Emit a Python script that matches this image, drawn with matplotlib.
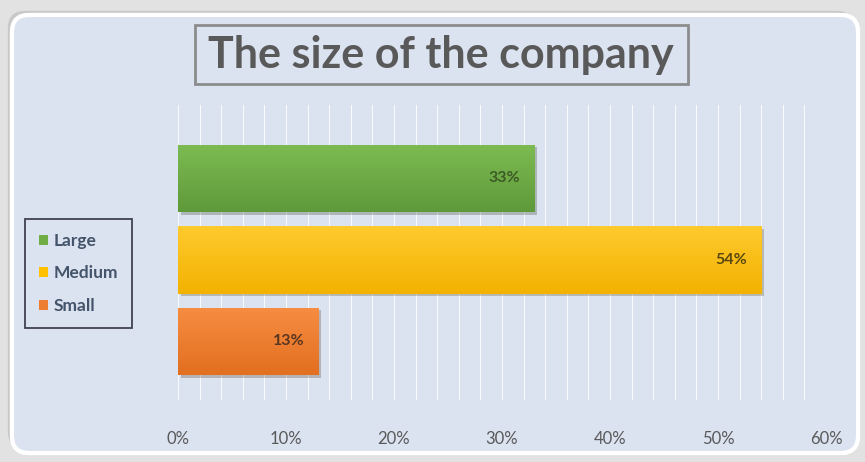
import numpy as np
import matplotlib
matplotlib.use("Agg")
import matplotlib.pyplot as plt
from matplotlib.patches import FancyBboxPatch, Patch, Rectangle
from matplotlib.colors import LinearSegmentedColormap
from matplotlib.ticker import FuncFormatter, MultipleLocator
import matplotlib.patheffects as pe

# company size shares
categories = ["Large", "Medium", "Small"]
shares = [33, 54, 13]
tick_values = [0, 10, 20, 30, 40, 50, 60]

bar_colors = ["#70ad47", "#ffc000", "#ed7d31"]
bar_tops = ["#7dbb52", "#ffca2e", "#f68d42"]
bar_bottoms = ["#5f9a3a", "#f2b200", "#e36f20"]
label_colors = ["#3b5a26", "#5a4810", "#5a3520"]

plt.rcParams["font.family"] = ["Lato", "DejaVu Sans"]

fig = plt.figure(figsize=(8.65, 4.62), dpi=100)
fig.patch.set_facecolor("#e2e2e2")

# rounded chart panel
panel = FancyBboxPatch((12 / 865, 9 / 462), 846 / 865, 438 / 462,
                       boxstyle="round,pad=0,rounding_size=0.02",
                       transform=fig.transFigure, facecolor="#dbe2f0",
                       edgecolor="white", linewidth=3, zorder=-5,
                       mutation_aspect=865 / 462)
panel.set_path_effects([pe.withSimplePatchShadow(offset=(-3, 3), alpha=0.25,
                                                 shadow_rgbFace="#808080"),
                        pe.Normal()])
fig.patches.append(panel)

ax = fig.add_axes([178 / 865, 62 / 462, 648 / 865, 295 / 462], zorder=2)
ax.set_facecolor("none")
for s in ax.spines.values():
    s.set_visible(False)

ypos = np.arange(len(categories))
bars = ax.barh(ypos, shares, height=0.83, color=bar_colors, zorder=3)
for bar, top, bottom in zip(bars, bar_tops, bar_bottoms):
    bar.set_path_effects([pe.withSimplePatchShadow(offset=(2, -2), alpha=0.25), pe.Normal()])
    x0, y0 = bar.get_x(), bar.get_y()
    w, h = bar.get_width(), bar.get_height()
    cmap = LinearSegmentedColormap.from_list("g", [top, bottom])
    grad = np.linspace(0, 1, 64).reshape(-1, 1)
    im = ax.imshow(grad, cmap=cmap, aspect="auto", extent=(x0, x0 + w, y0 + h, y0),
                   zorder=4, origin="upper")
    im.set_clip_path(bar)

for bar, val, col in zip(bars, shares, label_colors):
    ax.annotate(f"{val}%", (val, bar.get_y() + bar.get_height() / 2),
                xytext=(-10, 0), textcoords="offset points", ha="right", va="center",
                fontsize=11.5, fontweight="bold", color=col, zorder=5)

ax.set_xlim(0, 60)
ax.set_ylim(2.72, -0.9)
ax.set_yticks([])
ax.set_xticks(tick_values)
ax.xaxis.set_major_formatter(FuncFormatter(lambda v, p: f"{v:.0f}%"))
ax.xaxis.set_minor_locator(MultipleLocator(2))
ax.tick_params(axis="x", which="both", length=0, pad=22, labelsize=12, labelcolor="#595959")
ax.grid(axis="x", which="both", color="white", linewidth=0.8, alpha=0.85, zorder=1)
ax.set_axisbelow(True)

# legend on the left
handles = [Patch(facecolor=c, edgecolor="none") for c in bar_colors]
leg = fig.legend(handles, categories, loc="upper left",
                 bbox_to_anchor=(25 / 865, 1 - 219 / 462), frameon=True,
                 fancybox=False, handlelength=0.55, handleheight=0.55,
                 handletextpad=0.3, labelspacing=0.95, borderpad=0.8,
                 borderaxespad=0, fontsize=12.5, labelcolor="#44546a")
leg.get_frame().set_edgecolor("#1a1a2a")
leg.get_frame().set_linewidth(1.3)
leg.get_frame().set_facecolor("none")
for t in leg.get_texts():
    t.set_fontweight("bold")

# title with a box around it
fig.text(441 / 865, 1 - 55 / 462, "The size of the company", ha="center", va="center",
         fontsize=31, fontweight="bold", color="#595959", zorder=3)
fig.patches.append(Rectangle((195 / 865, 1 - 84 / 462), 493 / 865, 59 / 462,
                             transform=fig.transFigure, fill=False,
                             edgecolor="#8c8c8c", linewidth=2, zorder=3))

fig.savefig("out.png", dpi=100, facecolor=fig.get_facecolor())
